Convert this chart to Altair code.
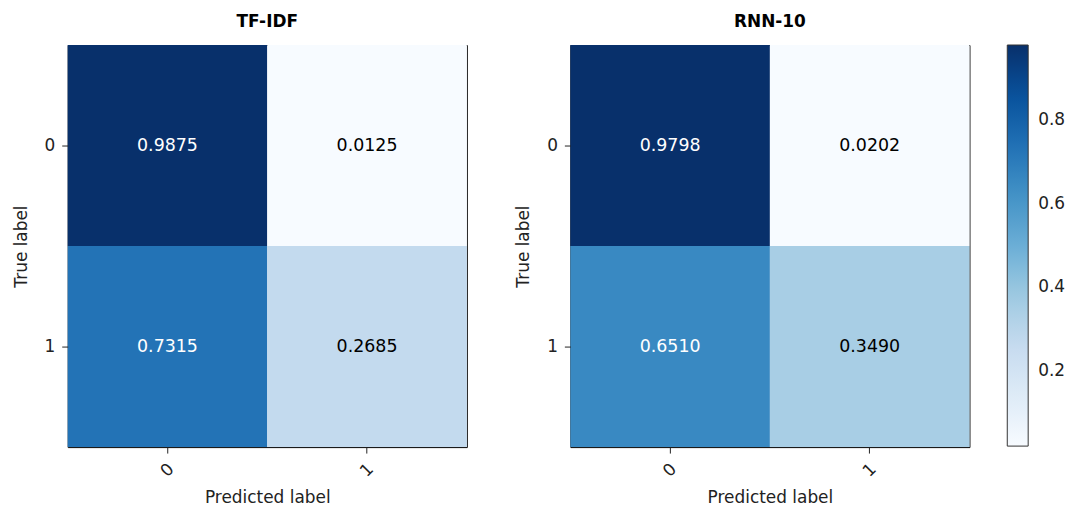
import altair as alt
import pandas as pd
import numpy as np

# ---- data ----
panel_titles = ["TF-IDF", "RNN-10"]
true_labels = ["0", "0", "1", "1"]
pred_labels = ["0", "1", "0", "1"]
tfidf_values = [0.9875, 0.0125, 0.7315, 0.2685]
rnn_values = [0.9798, 0.0202, 0.6510, 0.3490]
colorbar_ticks = [0.2, 0.4, 0.6, 0.8]
colorbar_min = 0.0202
colorbar_max = 0.9798

# matplotlib "Blues" anchor colours
blues = ['#f7fbff', '#deebf7', '#c6dbef', '#9ecae1', '#6baed6',
         '#4292c6', '#2171b5', '#08519c', '#08306b']
color_domain = list(np.linspace(colorbar_min, colorbar_max, len(blues)))

FONT = "DejaVu Sans"
FS = 17

color_scale = alt.Scale(domain=color_domain, range=blues, interpolate="rgb", clamp=True)
legend = alt.Legend(
    title=None, values=colorbar_ticks, format=".1f",
    gradientLength=403, gradientThickness=21,
    gradientStrokeColor="#333", gradientStrokeWidth=1,
    labelFont=FONT, labelFontSize=FS, labelColor="#222",
    labelOffset=10, offset=37, padding=0, direction="vertical",
)


def panel(title, values):
    df = pd.DataFrame({"true": true_labels, "pred": pred_labels, "value": values})
    base = alt.Chart(df)
    rect = base.mark_rect().encode(
        x=alt.X("pred:N", title="Predicted label",
                axis=alt.Axis(labelAngle=-45, labelAlign="center", labelBaseline="middle",
                              labelPadding=17, titlePadding=10)),
        y=alt.Y("true:N", title="True label",
                axis=alt.Axis(labelAngle=0, labelPadding=7, titlePadding=14)),
        color=alt.Color("value:Q", scale=color_scale, legend=legend),
    )
    text = base.mark_text(font=FONT, fontSize=17.5).encode(
        x="pred:N",
        y="true:N",
        text=alt.Text("value:Q", format=".4f"),
        color=alt.condition(alt.datum.value > 0.5, alt.value("white"), alt.value("black")),
    )
    return alt.layer(rect, text).properties(
        width=401, height=404,
        title=alt.TitleParams(title, font=FONT, fontSize=FS, fontWeight="bold",
                              color="#000", offset=14),
    )


chart = alt.hconcat(
    panel(panel_titles[0], tfidf_values),
    panel(panel_titles[1], rnn_values),
    spacing=46,
).resolve_scale(color="shared").properties(
    padding={"left": 3, "top": 3, "right": 0, "bottom": 0},
    background="white",
).configure_view(
    stroke="#000", strokeWidth=1
).configure_axis(
    labelFont=FONT, titleFont=FONT, labelFontSize=FS, titleFontSize=FS,
    titleFontWeight="normal", labelColor="#222", titleColor="#222",
    domain=False, tickColor="#222", tickSize=6, tickWidth=1, grid=False,
)

chart.save("out.html", embed_options={"renderer": "svg", "actions": False})
